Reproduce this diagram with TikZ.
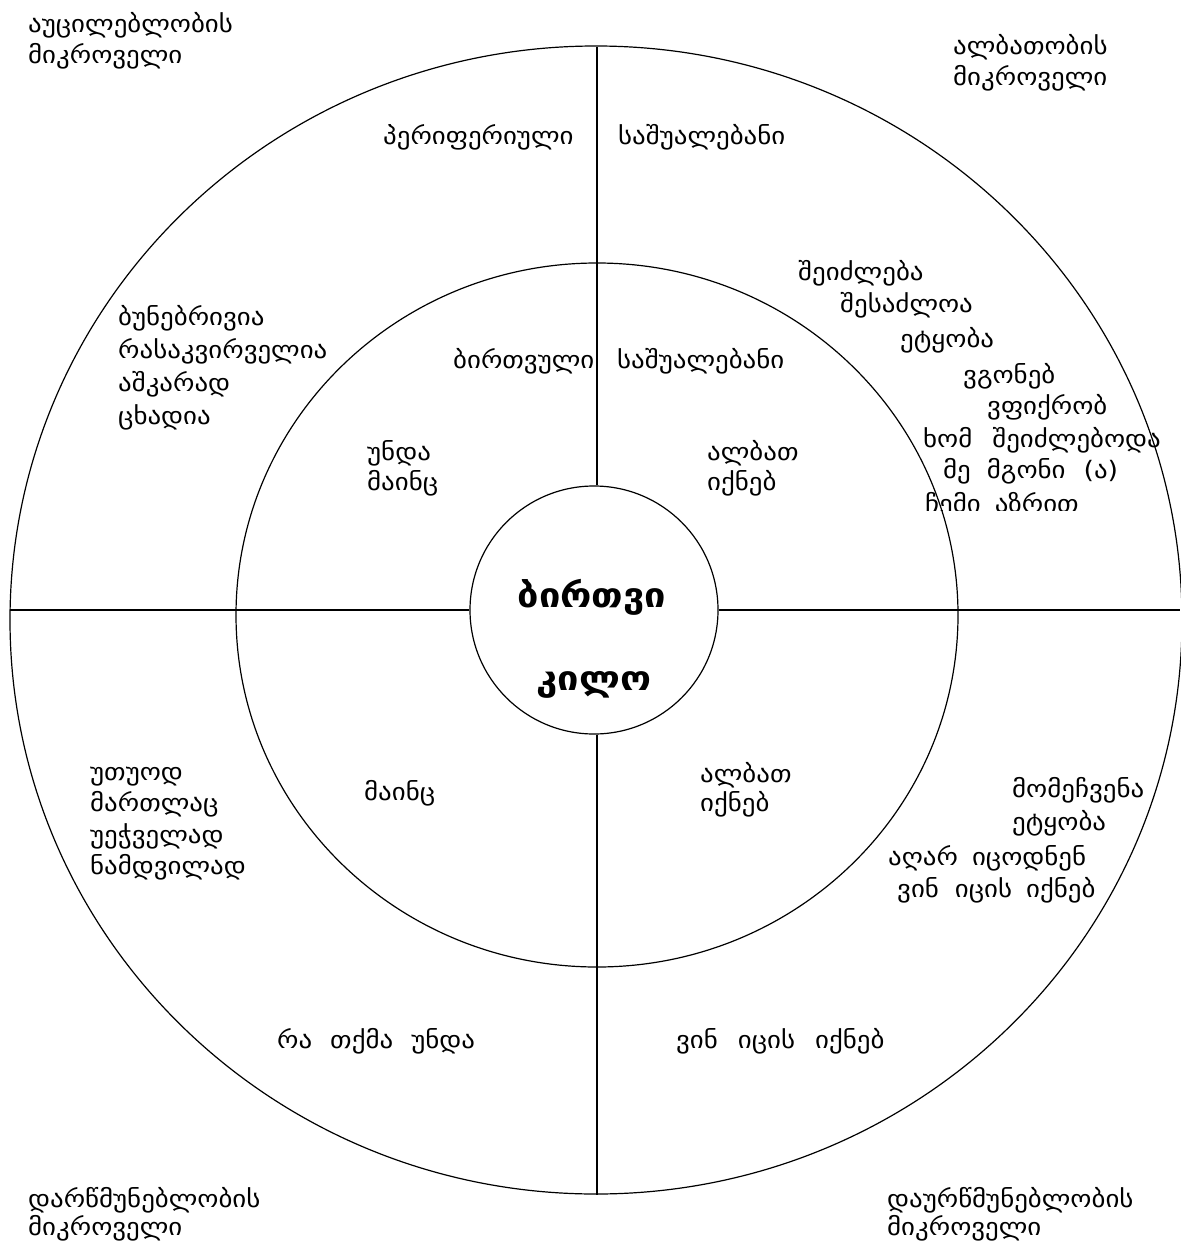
\documentclass[tikz,border=0pt]{standalone}
\usepackage{fontspec}
\newfontfamily\geo[FakeStretch=1.12]{DejaVu Sans}
\newcommand{\gp}[1]{\hspace{#1pt}}
\begin{document}
\begin{tikzpicture}[x=1pt,y=-1pt,
  lbl/.style={anchor=base west, inner sep=0pt, font={\geo\fontsize{24}{28}\selectfont}},
  ttl/.style={anchor=base, inner sep=0pt, font={\geo\bfseries\fontsize{34}{38}\selectfont}},
  ring/.style={line width=1.2pt},
  sep/.style={line width=1.2pt}]
\useasboundingbox (0,0) rectangle (1180,1249);
% shapes
\draw[ring] (596,620) ellipse [x radius=586, y radius=574];
\draw[ring] (597,615) ellipse [x radius=361, y radius=352];
\node[circle, draw, line width=1.2pt, minimum size=248pt, inner sep=0pt] (core) at (594,610) {};
\coordinate (L) at (10,610);
\coordinate (R) at (1180,610);
\coordinate (T) at (597,47);
\coordinate (B) at (597,1195);
\draw[sep] (L) -- (core.west);
\draw[sep] (core.east) -- (R);
\draw[sep] (T) -- (T |- core.north);
\draw[sep] (B |- core.south) -- (B);
% centre title
\node[ttl] (t1) at (592,607) {ბირთვი};
\node[ttl] (t2) at (594,690) {კილო};
% corners
\node[lbl] (c1a) at (28,33) {აუცილებლობის};
\node[lbl] (c1b) at (28,64) {მიკროველი};
\node[lbl] (c2a) at (953,55) {ალბათობის};
\node[lbl] (c2b) at (953,86) {მიკროველი};
\node[lbl] (c3a) at (28,1207) {დარწმუნებლობის};
\node[lbl] (c3b) at (28,1235) {მიკროველი};
\node[lbl] (c4a) at (887,1207) {დაურწმუნებლობის};
\node[lbl] (c4b) at (887,1235) {მიკროველი};
% outer ring top
\node[lbl] (o1) at (383,145) {პერიფერიული};
\node[lbl] (o2) at (618,145) {საშუალებანი};
% outer ring left
\node[lbl] (l1) at (118,325) {ბუნებრივია};
\node[lbl] (l2) at (118,358) {რასაკვირველია};
\node[lbl] (l3) at (118,391) {აშკარად};
\node[lbl] (l4) at (118,424) {ცხადია};
% outer ring right
\node[lbl] (r1) at (798,280) {შეიძლება};
\node[lbl] (r2) at (840,312) {შესაძლოა};
\node[lbl] (r3) at (900,347) {ეტყობა};
\node[lbl] (r4) at (963,383) {ვგონებ};
\node[lbl] (r5) at (987,414) {ვფიქრობ};
\node[lbl] (r6) at (923,447) {ხომ\gp{20}შეიძლებოდა};
\node[lbl] (r7) at (943,478) {მე\gp{16}მგონი\gp{18}(ა)};
\begin{scope}
\clip (0,0) rectangle (1180,510);
\node[lbl] (r8) at (925,512) {ჩემი\gp{14}აზრით};
\end{scope}
% inner ring
\node[lbl] (i1) at (453,368) {ბირთვული};
\node[lbl] (i2) at (617,368) {საშუალებანი};
\node[lbl] (i3) at (367,460) {უნდა};
\node[lbl] (i4) at (367,490) {მაინც};
\node[lbl] (i5) at (707,460) {ალბათ};
\node[lbl] (i6) at (707,490) {იქნებ};
\node[lbl] (i7) at (364,800) {მაინც};
\node[lbl] (i8) at (700,782) {ალბათ};
\node[lbl] (i9) at (700,811) {იქნებ};
% outer ring lower left
\node[lbl] (u1) at (90,780) {უთუოდ};
\node[lbl] (u2) at (90,811) {მართლაც};
\node[lbl] (u3) at (90,843) {უეჭველად};
\node[lbl] (u4) at (90,874) {ნამდვილად};
% outer ring lower right
\node[lbl] (d1) at (1012,797) {მომეჩვენა};
\node[lbl] (d2) at (1012,830) {ეტყობა};
\node[lbl] (d3) at (888,865) {აღარ\gp{14}იცოდნენ};
\node[lbl] (d4) at (897,897) {ვინ\gp{16}იცის\gp{14}იქნებ};
% outer ring bottom
\node[lbl] (b1) at (277,1048) {რა\gp{18}თქმა\gp{18}უნდა};
\node[lbl] (b2) at (676,1048) {ვინ\gp{20}იცის\gp{20}იქნებ};
\end{tikzpicture}
\end{document}
